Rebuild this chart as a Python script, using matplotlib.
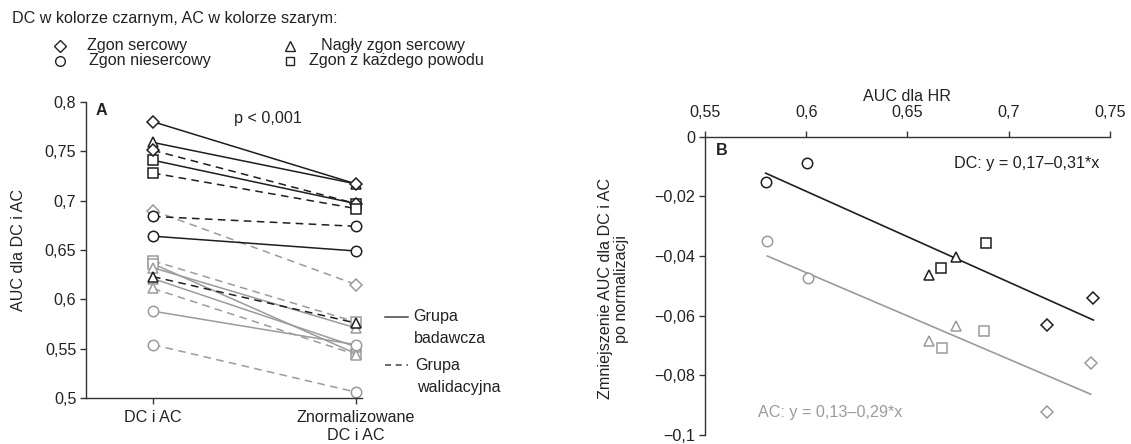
import numpy as np
import matplotlib
matplotlib.use('Agg')
import matplotlib.pyplot as plt

plt.rcParams['font.family'] = ['Liberation Sans', 'DejaVu Sans']

BLACK = '#1e1e1e'
GRAY = '#9b9b9b'
TXT = '#222222'
FS = 11.6

# Panel A: AUC dla DC i AC przed i po normalizacji
stages = ['DC i AC', 'Znormalizowane\nDC i AC']
dc_markers = ['^', 'D', 's', 'D', 's', 'o', 'o', '^']
dc_styles = ['-', '-', '-', '--', '--', '--', '-', '--']
dc_before = [0.759, 0.780, 0.741, 0.751, 0.728, 0.684, 0.664, 0.623]
dc_after = [0.717, 0.717, 0.697, 0.697, 0.692, 0.674, 0.649, 0.576]

ac_markers = ['D', 's', 's', '^', '^', '^', 'o', 'o']
ac_styles = ['--', '--', '-', '-', '-', '--', '-', '--']
ac_before = [0.690, 0.639, 0.636, 0.632, 0.621, 0.611, 0.588, 0.554]
ac_after = [0.615, 0.577, 0.545, 0.571, 0.552, 0.544, 0.554, 0.506]

yticks_a = [0.5, 0.55, 0.6, 0.65, 0.7, 0.75, 0.8]
ylabels_a = ['0,5', '0,55', '0,6', '0,65', '0,7', '0,75', '0,8']

# Panel B: zmniejszenie AUC vs AUC dla HR
dc_hr = [0.6005, 0.580, 0.6888, 0.6667, 0.674, 0.6604, 0.7418, 0.7187]
dc_drop = [-0.0089, -0.0153, -0.0357, -0.0440, -0.0404, -0.0464, -0.0542, -0.0632]
dc_shape = ['o', 'o', 's', 's', '^', '^', 'D', 'D']
ac_hr = [0.5808, 0.601, 0.674, 0.6608, 0.688, 0.6668, 0.7405, 0.7187]
ac_drop = [-0.0351, -0.0473, -0.0635, -0.0684, -0.0652, -0.0710, -0.0757, -0.0923]
ac_shape = ['o', 'o', '^', '^', 's', 's', 'D', 'D']

xticks_b = [0.55, 0.6, 0.65, 0.7, 0.75]
xlabels_b = ['0,55', '0,6', '0,65', '0,7', '0,75']
yticks_b = [-0.1, -0.08, -0.06, -0.04, -0.02, 0]
ylabels_b = ['\u22120,1', '\u22120,08', '\u22120,06', '\u22120,04', '\u22120,02', '0']

msize = {'D': 6.3, '^': 7.5, 's': 6.8, 'o': 7.5}

fig = plt.figure(figsize=(11.31, 4.44), dpi=100)

# ---- panel A
ax = fig.add_axes([86 / 1131, 1 - 398 / 444, 276 / 1131, 296 / 444])
for mk, ls, b, a in zip(ac_markers, ac_styles, ac_before, ac_after):
    ax.plot([0, 1], [b, a], color=GRAY, lw=1.1, ls=ls if ls == '-' else (0, (5, 3.5)),
            marker=mk, ms=msize[mk], mfc='white', mec=GRAY, mew=1.1, zorder=2)
for mk, ls, b, a in zip(dc_markers, dc_styles, dc_before, dc_after):
    ax.plot([0, 1], [b, a], color=BLACK, lw=1.1, ls=ls if ls == '-' else (0, (5, 3.5)),
            marker=mk, ms=msize[mk], mfc='white', mec=BLACK, mew=1.1, zorder=3)

ax.set_xlim(-0.33, 1.03)
ax.set_ylim(0.5, 0.8)
ax.set_xticks([0, 1])
ax.set_xticklabels(stages, fontsize=FS, color=TXT, linespacing=1.25)
ax.set_yticks(yticks_a)
ax.set_yticklabels(ylabels_a, fontsize=FS, color=TXT)
for s in ['top', 'right']:
    ax.spines[s].set_visible(False)
for s in ['left', 'bottom']:
    ax.spines[s].set_color('#333333')
    ax.spines[s].set_linewidth(1.0)
ax.tick_params(axis='y', length=4, width=1, pad=3, color='#333333')
ax.tick_params(axis='x', length=4, width=1, pad=5, color='#333333')
ax.text(-0.246, 0.5, 'AUC dla DC i AC', transform=ax.transAxes, rotation=90,
        ha='center', va='center', fontsize=FS, color=TXT)
ax.text(0.057, 0.97, 'A', transform=ax.transAxes, fontsize=FS, fontweight='bold',
        ha='center', va='center', color=TXT)
ax.text(0.567, 0.783, 'p < 0,001', ha='center', va='center', fontsize=FS, color=TXT)

# ---- panel B
bx = fig.add_axes([705 / 1131, 1 - 435 / 444, 405 / 1131, 298.3 / 444])
for x, y, mk in zip(ac_hr, ac_drop, ac_shape):
    bx.plot(x, y, ls='none', marker=mk, ms=msize[mk], mfc='white', mec=GRAY, mew=1.1, zorder=3)
for x, y, mk in zip(dc_hr, dc_drop, dc_shape):
    bx.plot(x, y, ls='none', marker=mk, ms=msize[mk], mfc='white', mec=BLACK, mew=1.1, zorder=4)

for xs, ys, col in [(dc_hr, dc_drop, BLACK), (ac_hr, ac_drop, GRAY)]:
    k, c = np.polyfit(xs, ys, 1)
    xx = np.array([min(xs), max(xs)])
    bx.plot(xx, c + k * xx, color=col, lw=1.2, zorder=2)

bx.set_xlim(0.55, 0.75)
bx.set_ylim(-0.1, 0)
bx.xaxis.tick_top()
bx.set_xticks(xticks_b)
bx.set_xticklabels(xlabels_b, fontsize=FS, color=TXT)
bx.set_yticks(yticks_b)
bx.set_yticklabels(ylabels_b, fontsize=FS, color=TXT)
for s in ['bottom', 'right']:
    bx.spines[s].set_visible(False)
for s in ['left', 'top']:
    bx.spines[s].set_color('#333333')
    bx.spines[s].set_linewidth(1.0)
bx.tick_params(axis='y', length=4, width=1, pad=3, color='#333333')
bx.tick_params(axis='x', length=4, width=1, pad=8, color='#333333')
bx.text(0.498, 1.134, 'AUC dla HR', transform=bx.transAxes, ha='center', va='center',
        fontsize=FS, color=TXT)
bx.text(-0.225, 0.49, 'Zmniejszenie AUC dla DC i AC\npo normalizacji', transform=bx.transAxes,
        rotation=90, ha='center', va='center', fontsize=FS, color=TXT, linespacing=1.1)
bx.text(0.041, 0.955, 'B', transform=bx.transAxes, fontsize=FS, fontweight='bold',
        ha='center', va='center', color=TXT)
bx.text(0.975, 0.91, 'DC: y = 0,17\u20130,31*x', transform=bx.transAxes, ha='right', va='center',
        fontsize=FS, color=BLACK)
bx.text(0.13, 0.075, 'AC: y = 0,13\u20130,29*x', transform=bx.transAxes, ha='left', va='center',
        fontsize=FS, color=GRAY)

# ---- header legend and line style legend (pixel coordinates)
ov = fig.add_axes([0, 0, 1, 1])
ov.set_xlim(0, 1131)
ov.set_ylim(444, 0)
ov.axis('off')
ov.text(12, 18, 'DC w kolorze czarnym, AC w kolorze szarym:', ha='left', va='center',
        fontsize=FS, color=TXT)
shapes = [('D', 60, 45.7, 'Zgon sercowy', 87), ('o', 60, 60.7, 'Zgon niesercowy', 89),
          ('^', 290, 45.7, 'Nagły zgon sercowy', 321), ('s', 290, 60.7, 'Zgon z każdego powodu', 309)]
for mk, mx, my, lab, tx in shapes:
    ov.plot(mx, my, marker=mk, ms=msize[mk] - 0.5, mfc='white', mec=TXT, mew=1.0, ls='none')
    ov.text(tx, my, lab, ha='left', va='center', fontsize=FS, color=TXT)

ov.plot([385, 408], [316.7, 316.7], color='#444444', lw=1.1)
ov.text(413, 316.7, 'Grupa', ha='left', va='center', fontsize=FS, color=TXT)
ov.text(414, 338, 'badawcza', ha='left', va='center', fontsize=FS, color=TXT)
ov.plot([385, 408], [365, 365], color='#444444', lw=1.1, ls=(0, (4, 3)))
ov.text(415, 365, 'Grupa', ha='left', va='center', fontsize=FS, color=TXT)
ov.text(417, 387, 'walidacyjna', ha='left', va='center', fontsize=FS, color=TXT)

fig.savefig('out.png', dpi=100)
